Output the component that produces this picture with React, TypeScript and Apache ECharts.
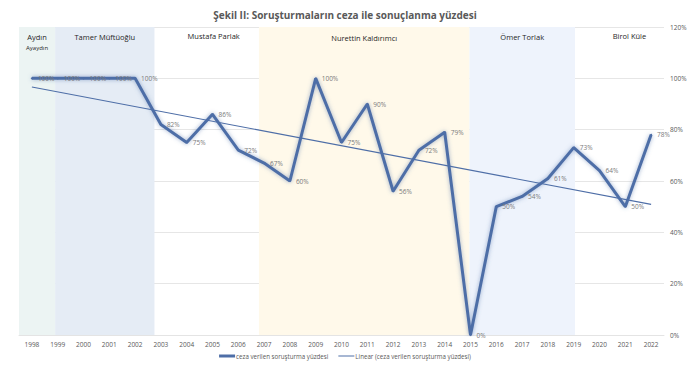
import React, { useEffect, useRef } from "react";
import * as echarts from "echarts";

const years = [
  "1998", "1999", "2000", "2001", "2002", "2003", "2004", "2005", "2006", "2007",
  "2008", "2009", "2010", "2011", "2012", "2013", "2014", "2015", "2016", "2017",
  "2018", "2019", "2020", "2021", "2022",
];
const percentages = [
  100, 100, 100, 100, 100, 82, 75, 86, 72, 67,
  60, 100, 75, 90, 56, 72, 79, 0, 50, 54,
  61, 73, 64, 50, 78,
];
// Linear trend end points
const trendYears = ["1998", "2022"];
const trendValues = [96.6, 50.9];

const yTicks = [0, 20, 40, 60, 80, 100, 120];

// Periods (bands), in category-index units
const bandNames = ["Aydın", "Tamer Müftüoğlu", "Mustafa Parlak", "Nurettin Kaldırımcı", "Ömer Torlak", "Birol Küle"];
const bandSubNames = ["Ayaydın", "", "", "", "", ""];
const bandFrom = [-0.5, 0.9, 4.75, 8.8, 16.96, 21.05];
const bandTo = [0.9, 4.75, 8.8, 16.96, 21.05, 24.5];

const bandColors = ["#ECF4F3", "#E5ECF5", "rgba(255,255,255,0)", "#FFF9EA", "#EEF3FC", "rgba(255,255,255,0)"];
const bandLabelOffsets = [[0, 0], [0, 0], [7, -1], [0, 1], [0, 0], [10, -1]];

const FONT = "'Open Sans', sans-serif";

export default function App() {
  const ref = useRef<HTMLDivElement>(null);
  useEffect(() => {
    document.body.style.margin = "0";
    if (!ref.current) return;
    const chart = echarts.init(ref.current, null, { renderer: "svg" });
    const areaData = bandNames.map((n, i) => [
      {
        name: n,
        xAxis: bandFrom[i],
        itemStyle: { color: bandColors[i] },
        label: {
          formatter: bandSubNames[i] ? `{a|${n}}\n{b|${bandSubNames[i]}}` : `{a|${n}}`,
          offset: bandLabelOffsets[i],
        },
      },
      { xAxis: bandTo[i] },
    ]);
    chart.setOption({
      animation: false,
      backgroundColor: "#ffffff",
      textStyle: { fontFamily: FONT },
      title: {
        text: "Şekil II: Soruşturmaların ceza ile sonuçlanma yüzdesi",
        left: "center",
        top: 5,
        textStyle: { fontFamily: FONT, fontSize: 10, fontWeight: "bold", color: "#595959" },
      },
      legend: {
        bottom: 6,
        left: "center",
        itemWidth: 16,
        itemHeight: 3,
        itemGap: 10,
        textStyle: { fontFamily: FONT, fontSize: 6.2, color: "#595959", padding: [0, 0, 0, -4] },
        data: [
          { name: "ceza verilen soruşturma yüzdesi", icon: "rect" },
          { name: "Linear (ceza verilen soruşturma yüzdesi)", icon: "path://M0,0H32V2H0Z" },
        ],
      },
      grid: { left: 19, right: 26, top: 27, bottom: 35, containLabel: false },
      xAxis: [
        {
          type: "category",
          data: years,
          boundaryGap: true,
          axisLine: { show: true, lineStyle: { color: "#e4e4e4" } },
          axisTick: { show: false },
          axisLabel: { fontFamily: FONT, fontSize: 6.5, color: "#595959", margin: 6 },
        },
        { type: "value", min: -0.5, max: 24.5, show: false },
      ],
      yAxis: {
        type: "value",
        position: "right",
        min: yTicks[0],
        max: yTicks[yTicks.length - 1],
        interval: 20,
        axisLine: { show: false },
        axisTick: { show: false },
        splitLine: { lineStyle: { color: "#e6e6e6", width: 1 } },
        axisLabel: { formatter: "{value}%", fontFamily: FONT, fontSize: 6.5, color: "#595959", margin: 6 },
      },
      series: [
        {
          name: "bands",
          type: "line",
          xAxisIndex: 1,
          data: [],
          silent: true,
          markArea: {
            silent: true,
            label: {
              show: true,
              position: "insideTop",
              distance: 4,
              color: "#262626",
              rich: {
                a: { fontFamily: FONT, fontSize: 7.5, color: "#262626", lineHeight: 12 },
                b: { fontFamily: FONT, fontSize: 6, color: "#262626", lineHeight: 10 },
              },
            },
            data: areaData,
          },
        },
        {
          name: "ceza verilen soruşturma yüzdesi",
          type: "line",
          data: percentages,
          symbol: "circle",
          symbolSize: 2,
          itemStyle: { color: "#4E6EA7" },
          lineStyle: {
            color: "#4E6EA7",
            width: 3,
            shadowBlur: 4,
            shadowColor: "rgba(78,110,167,0.55)",
          },
          label: {
            show: true,
            position: "right",
            distance: 5,
            formatter: "{c}%",
            fontFamily: FONT,
            fontSize: 6.5,
            color: "#7a7a7a",
          },
          z: 3,
        },
        {
          name: "Linear (ceza verilen soruşturma yüzdesi)",
          type: "line",
          data: trendYears.map((y, i) => [y, trendValues[i]]),
          symbol: "none",
          itemStyle: { color: "#4E6EA7" },
          lineStyle: { color: "#4E6EA7", width: 1.1 },
          z: 2,
        },
      ],
    });
    return () => chart.dispose();
  }, []);
  return <div ref={ref} style={{ width: 690, height: 370 }} />;
}
